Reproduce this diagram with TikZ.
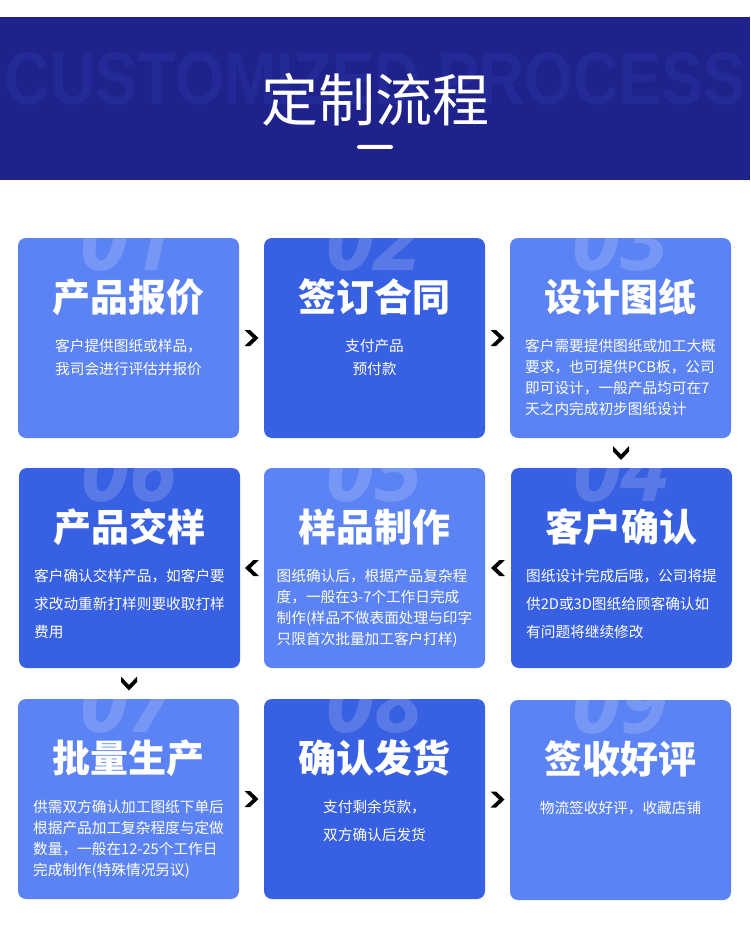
\documentclass[tikz,border=0pt]{standalone}
\usepackage{fontspec}
\usepackage{graphicx}
\setmainfont{Noto Sans CJK SC}
\newfontfamily\numfont{Open Sans}
\newfontfamily\markfont{Liberation Sans}
\usetikzlibrary{calc}
\definecolor{navy}{RGB}{30,34,138}
\definecolor{navymark}{RGB}{35,41,150}
\definecolor{lightcard}{RGB}{91,131,243}
\definecolor{darkcard}{RGB}{56,96,226}

\tikzset{
  bignum/.style={anchor=base, inner sep=0pt, text=white, text opacity=0.17,
    font=\numfont\bfseries\itshape\fontsize{65pt}{65pt}\selectfont},
  card/.style={rectangle, rounded corners=6pt, minimum width=165.75pt,
    minimum height=150pt, inner sep=0pt,
    path picture={\node[bignum] at ($(path picture bounding box.north)!0.165!(path picture bounding box.south)$) {#1};}},
  ttl/.style={inner sep=0pt, text=white, font=\bfseries\fontsize{28.5pt}{28.5pt}\selectfont},
  desc/.style={anchor=north, inner sep=0pt, text=white, align=left,
    font=\fontsize{11pt}{#1}\selectfont},
  chevron/.pic={\fill[black] (-7,-8) -- (-1.5,-8) -- (7,0) -- (-1.5,8) -- (-7,8) -- (1.5,0) -- cycle;}
}

\begin{document}
\begin{tikzpicture}[x=0.75pt,y=0.75pt,yscale=-1,xscale=1]
\useasboundingbox (0,0) rectangle (750,934);

%Shape: Rectangle [header band]
\fill[navy] (0,17) rectangle (750,180);
% Text Node
\node[font=\markfont\bfseries, text=navymark, inner sep=0pt] (mark) at (375,79) {\resizebox{555pt}{39pt}{CUSTOMIZED PROCESS}};
% Text Node
\node[font=\fontsize{42.75pt}{42.75pt}\selectfont, text=white, inner sep=0pt] (head) at (375,100) {定制流程};
%Shape: Rectangle [bar]
\fill[white, rounded corners=1.5pt] (357,145) rectangle (393,149);

%Shape: Cards, row 1
\node[card=01, fill=lightcard] (b1) at (128.5,338) {};
\node[card=02, fill=darkcard] (b2) at (374.5,338) {};
\node[card=03, fill=lightcard] (b3) at (620.5,338) {};
%Shape: Cards, row 2
\node[card=06, fill=darkcard] (b6) at (129.5,568) {};
\node[card=05, fill=lightcard] (b5) at (374.5,568) {};
\node[card=04, fill=darkcard] (b4) at (621.5,568) {};
%Shape: Cards, row 3
\node[card=07, fill=lightcard] (b7) at (128.5,799) {};
\node[card=08, fill=darkcard] (b8) at (374.5,799) {};
\node[card=09, fill=lightcard] (b9) at (620.5,800) {};

% Text Node
\node[ttl] (t1) at ($(b1.north)+(0,59)$) {产品报价};
\node[desc=17.25pt] (d1) at ($(b1.north)+(0,101)$) {客户提供图纸或样品，\\我司会进行评估并报价};
% Text Node
\node[ttl] (t2) at ($(b2.north)+(0,59)$) {签订合同};
\node[desc=17.25pt, align=center] (d2) at ($(b2.north)+(0,101)$) {支付产品\\预付款};
% Text Node
\node[ttl] (t3) at ($(b3.north)+(0,59)$) {设计图纸};
\node[desc=15.75pt] (d3) at ($(b3.north)+(0,101)$) {客户需要提供图纸或加工大概\\要求，也可提供PCB板，公司\\即可设计，一般产品均可在7\\天之内完成初步图纸设计};
% Text Node
\node[ttl] (t4) at ($(b4.north)+(0,59)$) {客户确认};
\node[desc=21pt] (d4) at ($(b4.north)+(0,101)$) {图纸设计完成后哦，公司将提\\供2D或3D图纸给顾客确认如\\有问题将继续修改};
% Text Node
\node[ttl] (t5) at ($(b5.north)+(0,59)$) {样品制作};
\node[desc=15.75pt] (d5) at ($(b5.north)+(0,101)$) {图纸确认后，根据产品复杂程\\度，一般在3-7个工作日完成\\制作(样品不做表面处理与印字\\只限首次批量加工客户打样)};
% Text Node
\node[ttl] (t6) at ($(b6.north)+(0,59)$) {产品交样};
\node[desc=21pt] (d6) at ($(b6.north)+(0,101)$) {客户确认交样产品，如客户要\\求改动重新打样则要收取打样\\费用};
% Text Node
\node[ttl] (t7) at ($(b7.north)+(0,59)$) {批量生产};
\node[desc=15.75pt] (d7) at ($(b7.north)+(0,101)$) {供需双方确认加工图纸下单后\\根据产品加工复杂程度与定做\\数量，一般在12-25个工作日\\完成制作(特殊情况另议)};
% Text Node
\node[ttl] (t8) at ($(b8.north)+(0,59)$) {确认发货};
\node[desc=21pt] (d8) at ($(b8.north)+(0,101)$) {支付剩余货款，\\双方确认后发货};
% Text Node
\node[ttl] (t9) at ($(b9.north)+(0,59)$) {签收好评};
\node[desc=17.25pt] (d9) at ($(b9.north)+(0,101)$) {物流签收好评，收藏店铺};

%Chevrons between cards
\pic at ($(b1.east)!0.5!(b2.west)$) {chevron};
\pic at ($(b2.east)!0.5!(b3.west)$) {chevron};
\pic[rotate=-90] at ($(b3.south)!0.5!(b4.north)$) {chevron};
\pic[rotate=180] at ($(b4.west)!0.5!(b5.east)$) {chevron};
\pic[rotate=180] at ($(b5.west)!0.5!(b6.east)$) {chevron};
\pic[rotate=-90] at ($(b6.south)!0.5!(b7.north)$) {chevron};
\pic at ($(b7.east)!0.5!(b8.west)$) {chevron};
\pic at ($(b8.east)!0.5!(b9.west)$) {chevron};

\end{tikzpicture}
\end{document}
